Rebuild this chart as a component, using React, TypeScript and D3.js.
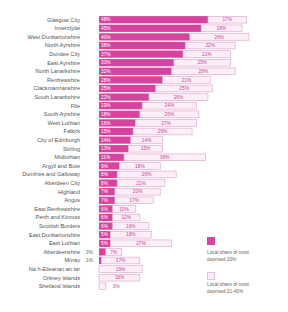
import React from "react";
import * as d3 from "d3";

const categories = [
  "Glasgow City", "Inverclyde", "West Dunbartonshire", "North Ayrshire", "Dundee City",
  "East Ayrshire", "North Lanarkshire", "Renfrewshire", "Clackmannanshire", "South Lanarkshire",
  "Fife", "South Ayrshire", "West Lothian", "Falkirk", "City of Edinburgh", "Stirling",
  "Midlothian", "Argyll and Bute", "Dumfries and Galloway", "Aberdeen City", "Highland",
  "Angus", "East Renfrewshire", "Perth and Kinross", "Scottish Borders", "East Dunbartonshire",
  "East Lothian", "Aberdeenshire", "Moray", "Na h-Eileanan an Iar", "Orkney Islands",
  "Shetland Islands",
];
const most20 = [48, 45, 40, 38, 37, 33, 32, 28, 25, 22, 19, 18, 16, 15, 14, 13, 11, 9, 8, 8, 7, 7, 6, 6, 6, 5, 5, 3, 1, 0, 0, 0];
const next20 = [17, 18, 26, 22, 21, 25, 28, 21, 25, 26, 24, 26, 27, 26, 14, 15, 36, 18, 26, 21, 20, 17, 10, 12, 16, 18, 27, 7, 17, 19, 18, 3];
const legendLabels = [["Local share of most", "deprived 20%"], ["Local share of most", "deprived 21-40%"]];

const DARK = "#d6449f";
const LIGHT_FILL = "#fdeef7";
const LIGHT_STROKE = "#dba3cb";
const FONT = "Liberation Sans, Arial, sans-serif";

export default function App() {
  const x = d3.scaleLinear().domain([0, 100]).range([99, 326]);
  const y = d3.scaleBand<string>().domain(categories).range([15.4, 15.4 + 32 * 8.6]).paddingInner(0.16).paddingOuter(0.08);
  const bh = y.bandwidth();
  return (
    <svg width={288} height={312} style={{ position: "absolute", left: 0, top: 0, background: "#fff" }} fontFamily={FONT}>
      {categories.map((c, i) => {
        const y0 = y(c)!;
        const cy = y0 + bh / 2;
        const d = most20[i];
        const l = next20[i];
        const x0 = x(0), x1 = x(d), x2 = x(d + l);
        const lw = x2 - x1;
        return (
          <g key={c}>
            <text x={80} y={cy} dy="0.35em" textAnchor="end" fontSize={5.6} fill="#555">{c}</text>
            {d > 0 && <rect x={x0} y={y0} width={x1 - x0} height={bh} fill={DARK} />}
            {d >= 4 && <text x={x0 + 2} y={cy} dy="0.35em" fontSize={4.8} fill="#fff">{d}%</text>}
            {d > 0 && d < 4 && <text x={93} y={cy} dy="0.35em" textAnchor="end" fontSize={4.8} fill="#666">{d}%</text>}
            <rect x={x1} y={y0 + 0.25} width={lw} height={bh - 0.5} fill={LIGHT_FILL} stroke={LIGHT_STROKE} strokeWidth={0.6} />
            {lw >= 12 ? (
              <text x={(x1 + x2) / 2} y={cy} dy="0.35em" textAnchor="middle" fontSize={4.8} fill="#c9479a">{l}%</text>
            ) : (
              <text x={x2 + 7} y={cy} dy="0.35em" textAnchor="start" fontSize={4.8} fill="#c9479a">{l}%</text>
            )}
          </g>
        );
      })}
      <g>
        <rect x={207} y={237} width={8} height={8} fill={DARK} />
        <text x={207} y={254} fontSize={4.8} fill="#666">{legendLabels[0][0]}</text>
        <text x={207} y={260.5} fontSize={4.8} fill="#666">{legendLabels[0][1]}</text>
        <rect x={207.3} y={272.3} width={7.4} height={7.4} fill={LIGHT_FILL} stroke={LIGHT_STROKE} strokeWidth={0.6} />
        <text x={207} y={286} fontSize={4.8} fill="#666">{legendLabels[1][0]}</text>
        <text x={207} y={292.5} fontSize={4.8} fill="#666">{legendLabels[1][1]}</text>
      </g>
    </svg>
  );
}
